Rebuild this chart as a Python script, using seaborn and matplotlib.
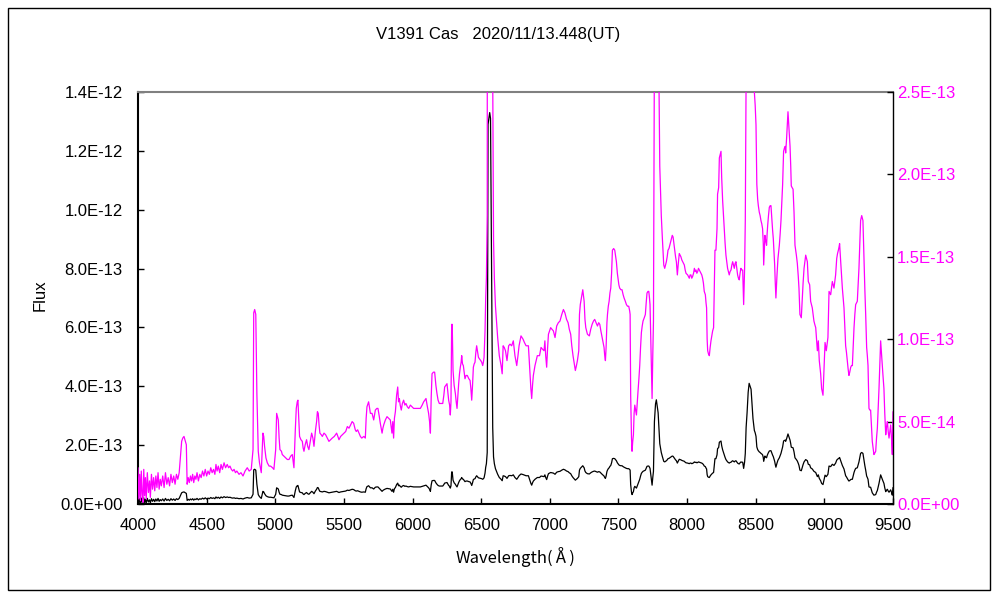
import numpy as np
import pandas as pd
import matplotlib
matplotlib.use("Agg")
import matplotlib.pyplot as plt
import seaborn as sns
from matplotlib.ticker import FuncFormatter, FixedLocator
from matplotlib.patches import Rectangle

# ---------------- data (flux in units of 1E-13) ----------------
wavelength = [
    4000, 4006, 4012, 4018, 4024, 4030, 4036, 4042, 4048, 4054, 4060, 4068, 4076, 4084, 4090, 4098,
    4106, 4114, 4122, 4130, 4138, 4146, 4154, 4162, 4170, 4180, 4190, 4200, 4210, 4220, 4230, 4240,
    4250, 4260, 4270, 4280, 4290, 4300, 4310, 4318, 4326, 4335, 4345, 4352, 4358, 4366, 4374, 4382,
    4390, 4398, 4406, 4414, 4422, 4430, 4440, 4450, 4460, 4470, 4480, 4490, 4500, 4510, 4520, 4530,
    4540, 4550, 4560, 4568, 4576, 4585, 4595, 4605, 4615, 4627, 4638, 4650, 4660, 4670, 4680, 4690,
    4700, 4710, 4720, 4736, 4750, 4765, 4780, 4796, 4810, 4825, 4838, 4843, 4850, 4858, 4866, 4876,
    4885, 4898, 4910, 4916, 4922, 4932, 4942, 4955, 4966, 4980, 4990, 5003, 5010, 5016, 5022, 5028,
    5034, 5045, 5051, 5063, 5075, 5088, 5100, 5112, 5124, 5136, 5146, 5153, 5160, 5165, 5172, 5177,
    5187, 5197, 5203, 5209, 5218, 5228, 5236, 5245, 5255, 5265, 5274, 5282, 5292, 5301, 5307, 5313,
    5319, 5325, 5335, 5343, 5355, 5367, 5379, 5391, 5403, 5415, 5430, 5447, 5456, 5464, 5476, 5488,
    5500, 5513, 5525, 5537, 5549, 5560, 5571, 5583, 5590, 5600, 5610, 5620, 5630, 5645, 5656, 5662,
    5668, 5680, 5693, 5705, 5717, 5729, 5740, 5748, 5758, 5765, 5778, 5784, 5790, 5802, 5814, 5826,
    5838, 5850, 5856, 5862, 5868, 5875, 5884, 5892, 5898, 5904, 5910, 5918, 5926, 5935, 5944, 5952,
    5962, 5972, 5984, 5996, 6008, 6020, 6035, 6057, 6070, 6081, 6090, 6098, 6106, 6117, 6124, 6130,
    6136, 6142, 6152, 6161, 6170, 6178, 6186, 6195, 6208, 6220, 6228, 6234, 6243, 6251, 6257, 6263,
    6270, 6275, 6280, 6285, 6289, 6295, 6303, 6312, 6318, 6324, 6330, 6336, 6342, 6348, 6354, 6358,
    6364, 6370, 6376, 6382, 6390, 6399, 6410, 6419, 6425, 6431, 6437, 6443, 6449, 6455, 6461, 6467,
    6474, 6480, 6488, 6497, 6504, 6511, 6516, 6521, 6528, 6533, 6538, 6544, 6550, 6556, 6562, 6568,
    6577, 6584, 6590, 6596, 6604, 6610, 6620, 6632, 6645, 6653, 6660, 6668, 6677, 6688, 6700, 6710,
    6722, 6734, 6746, 6759, 6768, 6776, 6790, 6805, 6815, 6827, 6844, 6856, 6862, 6868, 6874, 6880,
    6892, 6909, 6925, 6936, 6946, 6958, 6964, 6970, 6977, 6984, 6990, 7006, 7016, 7026, 7038, 7050,
    7062, 7074, 7087, 7099, 7110, 7122, 7133, 7142, 7152, 7160, 7169, 7178, 7186, 7194, 7201, 7211,
    7216, 7222, 7230, 7240, 7250, 7256, 7262, 7274, 7288, 7298, 7308, 7318, 7327, 7337, 7347, 7356,
    7364, 7372, 7381, 7388, 7395, 7400, 7405, 7410, 7416, 7420, 7426, 7432, 7438, 7444, 7450, 7456,
    7465, 7473, 7480, 7485, 7492, 7497, 7503, 7509, 7518, 7526, 7534, 7541, 7550, 7558, 7566, 7575,
    7582, 7585, 7589, 7595, 7599, 7604, 7609, 7614, 7619, 7625, 7631, 7637, 7643, 7649, 7655, 7661,
    7667, 7673, 7679, 7688, 7696, 7702, 7708, 7715, 7721, 7726, 7730, 7734, 7738, 7742, 7745, 7750,
    7755, 7762, 7770, 7776, 7783, 7789, 7796, 7801, 7805, 7812, 7820, 7830, 7837, 7843, 7849, 7855,
    7861, 7868, 7874, 7880, 7886, 7892, 7898, 7904, 7910, 7916, 7922, 7929, 7935, 7943, 7949, 7955,
    7962, 7968, 7974, 7980, 7986, 7992, 8004, 8010, 8016, 8022, 8028, 8034, 8040, 8047, 8053, 8059,
    8065, 8071, 8077, 8083, 8089, 8095, 8101, 8107, 8113, 8119, 8125, 8133, 8138, 8142, 8146, 8150,
    8156, 8162, 8168, 8174, 8180, 8186, 8193, 8198, 8203, 8210, 8214, 8218, 8222, 8230, 8235, 8241,
    8247, 8252, 8259, 8265, 8271, 8277, 8283, 8289, 8295, 8301, 8307, 8313, 8320, 8326, 8332, 8338,
    8344, 8350, 8356, 8362, 8368, 8374, 8380, 8386, 8392, 8398, 8405, 8412, 8419, 8424, 8430, 8437,
    8445, 8452, 8459, 8466, 8473, 8480, 8490, 8496, 8502, 8508, 8514, 8519, 8526, 8532, 8538, 8544,
    8550, 8555, 8558, 8563, 8567, 8572, 8579, 8583, 8587, 8593, 8599, 8605, 8611, 8618, 8623, 8628,
    8633, 8638, 8642, 8647, 8651, 8655, 8662, 8667, 8672, 8678, 8684, 8690, 8696, 8703, 8709, 8715,
    8718, 8725, 8730, 8735, 8742, 8750, 8755, 8759, 8765, 8772, 8779, 8786, 8791, 8796, 8803, 8810,
    8815, 8822, 8827, 8832, 8839, 8845, 8852, 8858, 8864, 8870, 8876, 8883, 8888, 8893, 8900, 8906,
    8912, 8918, 8924, 8930, 8937, 8943, 8949, 8956, 8963, 8968, 8973, 8980, 8985, 8990, 8997, 9005,
    9010, 9014, 9020, 9026, 9034, 9040, 9046, 9052, 9058, 9064, 9070, 9076, 9082, 9090, 9096, 9102,
    9107, 9111, 9115, 9119, 9125, 9131, 9137, 9143, 9149, 9155, 9161, 9167, 9173, 9179, 9185, 9192,
    9198, 9204, 9210, 9216, 9222, 9228, 9234, 9240, 9246, 9252, 9258, 9264, 9272, 9281, 9285, 9289,
    9295, 9301, 9308, 9313, 9318, 9322, 9325, 9331, 9337, 9343, 9349, 9355, 9361, 9368, 9374, 9380,
    9386, 9392, 9398, 9404, 9410, 9417, 9422, 9427, 9434, 9440, 9447, 9453, 9459, 9465, 9471, 9477,
    9483, 9489, 9495, 9500,
]

flux_e13 = [
    0.22, 0.03, 0.18, 0.02, 0.20, 0.06, 0.01, 0.21, 0.05, 0.16, 0.03, 0.19, 0.07, 0.14, 0.04, 0.18,
    0.09, 0.16, 0.08, 0.17, 0.10, 0.19, 0.09, 0.15, 0.11, 0.17, 0.10, 0.19, 0.12, 0.16, 0.11, 0.18,
    0.13, 0.17, 0.12, 0.18, 0.15, 0.19, 0.30, 0.38, 0.40, 0.41, 0.38, 0.36, 0.12, 0.16, 0.13, 0.17,
    0.14, 0.18, 0.13, 0.17, 0.15, 0.19, 0.14, 0.18, 0.16, 0.20, 0.17, 0.21, 0.17, 0.20, 0.18, 0.22,
    0.19, 0.21, 0.18, 0.24, 0.20, 0.23, 0.19, 0.24, 0.21, 0.25, 0.22, 0.24, 0.22, 0.23, 0.21, 0.20,
    0.21, 0.19, 0.20, 0.18, 0.19, 0.17, 0.20, 0.22, 0.20, 0.21, 0.33, 1.16, 1.18, 1.15, 0.67, 0.32,
    0.25, 0.19, 0.43, 0.41, 0.35, 0.28, 0.25, 0.23, 0.23, 0.22, 0.21, 0.33, 0.55, 0.53, 0.51, 0.40,
    0.33, 0.32, 0.30, 0.29, 0.28, 0.27, 0.27, 0.29, 0.30, 0.22, 0.45, 0.58, 0.62, 0.63, 0.50, 0.41,
    0.39, 0.38, 0.34, 0.32, 0.36, 0.39, 0.35, 0.33, 0.38, 0.43, 0.40, 0.35, 0.44, 0.50, 0.56, 0.55,
    0.48, 0.43, 0.42, 0.41, 0.43, 0.42, 0.40, 0.38, 0.39, 0.40, 0.41, 0.43, 0.41, 0.39, 0.41, 0.42,
    0.43, 0.44, 0.47, 0.46, 0.48, 0.50, 0.49, 0.45, 0.44, 0.45, 0.43, 0.41, 0.40, 0.41, 0.40, 0.52,
    0.59, 0.62, 0.55, 0.55, 0.51, 0.57, 0.58, 0.58, 0.53, 0.49, 0.43, 0.46, 0.48, 0.51, 0.53, 0.52,
    0.51, 0.43, 0.50, 0.40, 0.52, 0.56, 0.66, 0.71, 0.62, 0.64, 0.60, 0.57, 0.61, 0.63, 0.60, 0.61,
    0.59, 0.58, 0.60, 0.59, 0.58, 0.58, 0.58, 0.58, 0.60, 0.62, 0.63, 0.64, 0.60, 0.55, 0.50, 0.43,
    0.65, 0.79, 0.80, 0.80, 0.72, 0.67, 0.63, 0.61, 0.61, 0.61, 0.66, 0.71, 0.72, 0.73, 0.68, 0.63,
    0.60, 0.54, 0.62, 1.09, 1.09, 0.81, 0.72, 0.67, 0.62, 0.58, 0.66, 0.73, 0.79, 0.83, 0.86, 0.90,
    0.85, 0.84, 0.80, 0.76, 0.78, 0.78, 0.76, 0.75, 0.70, 0.63, 0.72, 0.83, 0.85, 0.86, 0.92, 0.96,
    0.92, 0.89, 0.88, 0.87, 0.86, 0.84, 0.86, 0.89, 1.05, 1.25, 1.37, 1.75, 12.9, 13.1, 13.3, 13.1,
    7.3, 2.6, 1.6, 1.37, 1.20, 1.13, 1.01, 0.90, 0.84, 0.79, 0.96, 0.95, 0.93, 0.87, 0.96, 0.97,
    0.96, 0.99, 0.90, 0.84, 0.90, 0.96, 1.02, 1.00, 0.98, 0.96, 0.96, 0.78, 0.70, 0.64, 0.72, 0.78,
    0.84, 0.90, 0.90, 0.95, 0.94, 0.93, 0.99, 0.90, 0.83, 0.95, 1.03, 1.07, 1.06, 1.05, 1.01, 1.08,
    1.10, 1.11, 1.15, 1.18, 1.16, 1.12, 1.10, 1.06, 1.03, 0.96, 0.90, 0.85, 0.81, 0.84, 0.87, 0.93,
    1.15, 1.21, 1.25, 1.30, 1.23, 1.12, 1.07, 1.03, 1.02, 1.06, 1.09, 1.11, 1.12, 1.10, 1.08, 1.10,
    1.09, 1.05, 1.01, 0.98, 0.95, 0.90, 0.87, 0.95, 1.10, 1.15, 1.20, 1.23, 1.28, 1.31, 1.40, 1.54,
    1.55, 1.54, 1.50, 1.47, 1.40, 1.37, 1.33, 1.31, 1.30, 1.30, 1.27, 1.25, 1.23, 1.21, 1.20, 1.20,
    1.17, 1.15, 0.66, 0.40, 0.32, 0.38, 0.42, 0.55, 0.60, 0.57, 0.54, 0.62, 0.69, 0.76, 0.84, 0.95,
    1.04, 1.08, 1.11, 1.13, 1.15, 1.22, 1.28, 1.29, 1.29, 1.25, 1.21, 1.05, 0.87, 0.70, 0.64, 0.90,
    1.11, 2.80, 3.40, 3.54, 3.30, 3.10, 2.50, 2.05, 1.94, 1.75, 1.61, 1.45, 1.43, 1.45, 1.47, 1.50,
    1.54, 1.55, 1.57, 1.59, 1.61, 1.63, 1.62, 1.58, 1.54, 1.50, 1.47, 1.39, 1.45, 1.52, 1.51, 1.50,
    1.48, 1.47, 1.46, 1.45, 1.42, 1.40, 1.39, 1.38, 1.37, 1.39, 1.39, 1.37, 1.38, 1.40, 1.43, 1.41,
    1.42, 1.40, 1.41, 1.43, 1.42, 1.41, 1.40, 1.39, 1.37, 1.34, 1.29, 1.27, 1.22, 1.19, 1.00, 0.93,
    0.91, 0.90, 0.95, 0.99, 1.02, 1.05, 1.07, 1.30, 1.54, 1.54, 1.60, 1.67, 1.88, 1.92, 2.10, 2.12,
    2.14, 1.98, 1.84, 1.75, 1.66, 1.58, 1.51, 1.47, 1.43, 1.41, 1.39, 1.41, 1.42, 1.45, 1.47, 1.45,
    1.43, 1.46, 1.47, 1.43, 1.39, 1.37, 1.36, 1.40, 1.43, 1.42, 1.42, 1.21, 1.43, 1.72, 2.60, 3.10,
    3.80, 4.10, 4.00, 3.90, 3.40, 2.90, 2.50, 2.42, 2.30, 1.94, 1.85, 1.81, 1.77, 1.75, 1.72, 1.70,
    1.67, 1.58, 1.45, 1.55, 1.63, 1.60, 1.57, 1.64, 1.69, 1.75, 1.80, 1.81, 1.81, 1.72, 1.66, 1.61,
    1.53, 1.45, 1.35, 1.25, 1.32, 1.39, 1.49, 1.53, 1.57, 1.64, 1.72, 1.83, 1.94, 2.14, 2.16, 2.17,
    2.13, 2.22, 2.30, 2.38, 2.28, 2.17, 2.05, 1.93, 1.92, 1.91, 1.77, 1.57, 1.54, 1.51, 1.46, 1.38,
    1.31, 1.15, 1.14, 1.13, 1.25, 1.34, 1.43, 1.47, 1.51, 1.49, 1.47, 1.35, 1.34, 1.33, 1.23, 1.21,
    1.19, 1.15, 1.11, 1.09, 1.07, 1.00, 0.93, 0.99, 0.87, 0.83, 0.79, 0.70, 0.68, 0.66, 0.81, 0.98,
    0.95, 0.93, 0.97, 1.01, 1.29, 1.28, 1.27, 1.31, 1.35, 1.33, 1.31, 1.35, 1.39, 1.49, 1.52, 1.54,
    1.56, 1.58, 1.53, 1.47, 1.39, 1.31, 1.25, 1.19, 1.08, 0.96, 0.92, 0.87, 0.82, 0.78, 0.80, 0.83,
    0.84, 0.84, 0.95, 1.07, 1.15, 1.21, 1.22, 1.23, 1.33, 1.43, 1.58, 1.72, 1.75, 1.72, 1.60, 1.47,
    1.30, 1.15, 0.95, 0.90, 0.84, 0.70, 0.58, 0.57, 0.57, 0.47, 0.38, 0.34, 0.30, 0.31, 0.32, 0.40,
    0.46, 0.58, 0.70, 0.85, 0.99, 0.90, 0.84, 0.78, 0.70, 0.55, 0.42, 0.47, 0.50, 0.44, 0.40, 0.44,
    0.48, 0.40, 0.30, 0.56,
]

flux_unit = 1e-13
title_text = "V1391 Cas   2020/11/13.448(UT)"
x_label = "Wavelength(\u212B)"
y_label = "Flux"
x_ticks = [4000, 4500, 5000, 5500, 6000, 6500, 7000, 7500, 8000, 8500, 9000, 9500]
left_ticks = [0.0, 2e-13, 4e-13, 6e-13, 8e-13, 1.0e-12, 1.2e-12, 1.4e-12]
right_ticks = [0.0, 5e-14, 1.0e-13, 1.5e-13, 2.0e-13, 2.5e-13]

# ---------------- plotting ----------------
sns.set_theme(style="white")
plt.rcParams['font.family'] = ['Liberation Sans', 'DejaVu Sans']

df = pd.DataFrame({"wl": wavelength, "flux": np.array(flux_e13) * flux_unit})

fig = plt.figure(figsize=(10, 6), dpi=100)
fig.patch.set_facecolor("white")
ax = fig.add_axes([0.138, 0.16, 0.755, 0.6867])
ax.set_facecolor("white")

sns.lineplot(data=df, x="wl", y="flux", ax=ax, color="black", lw=0.9,
             estimator=None, sort=False)
ax2 = ax.twinx()
sns.lineplot(data=df, x="wl", y="flux", ax=ax2, color="#FF00FF", lw=0.9,
             estimator=None, sort=False)

ax.set_xlim(4000, 9500)
ax.set_ylim(0, 1.4e-12)
ax2.set_ylim(0, 2.5e-13)
ax.set_xlabel("")
ax.set_ylabel("")
ax2.set_ylabel("")
ax.grid(False)
ax2.grid(False)

sci = FuncFormatter(lambda v, p: "{:.1E}".format(v))
ax.xaxis.set_major_locator(FixedLocator(x_ticks))
ax.yaxis.set_major_locator(FixedLocator(left_ticks))
ax2.yaxis.set_major_locator(FixedLocator(right_ticks))
ax.yaxis.set_major_formatter(sci)
ax2.yaxis.set_major_formatter(sci)

fs = 12
ax.tick_params(axis="x", direction="in", length=4, width=1, color="black",
               labelcolor="black", labelsize=fs, pad=10, bottom=True, top=False)
ax.tick_params(axis="y", direction="in", length=4, width=1, color="black",
               labelcolor="black", labelsize=fs, pad=11, left=True, right=False)
ax2.tick_params(axis="y", direction="in", length=4, width=1, color="black",
                labelcolor="#FF00FF", labelsize=fs, pad=3, right=True, left=False)

for s in ["left", "bottom"]:
    ax.spines[s].set_color("black")
    ax.spines[s].set_linewidth(1.5)
    ax.spines[s].set_visible(True)
ax.spines["top"].set_color("#808080")
ax.spines["top"].set_linewidth(1.5)
ax.spines["top"].set_visible(True)
ax.spines["right"].set_visible(False)
for s in ["left", "bottom", "top"]:
    ax2.spines[s].set_visible(False)
ax2.spines["right"].set_visible(True)
ax2.spines["right"].set_color("black")
ax2.spines["right"].set_linewidth(1.0)

fig.text(0.498, 1 - 35 / 600, title_text, ha="center", va="center", fontsize=fs, color="black")
fig.text(0.516, 1 - 557 / 600, x_label, ha="center", va="center", fontsize=fs, color="black",
         family=["Noto Sans CJK JP", "DejaVu Sans"])
fig.text(0.040, 1 - 295 / 600, y_label, ha="center", va="center", fontsize=fs, rotation=90,
         color="black")

fig.patches.append(Rectangle((0.008, 1 - 590 / 600), 0.982, (590 - 8) / 600,
                             transform=fig.transFigure, fill=False, ec="black", lw=1.0))

fig.savefig("out.png", dpi=100)
